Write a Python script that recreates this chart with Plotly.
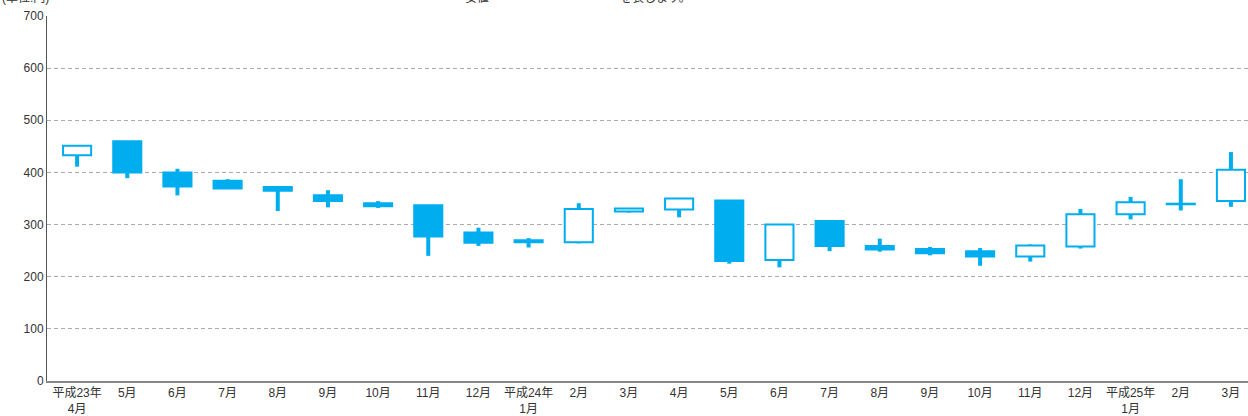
import plotly.graph_objects as go

months = ["平成23年<br>4月", "5月", "6月", "7月", "8月", "9月", "10月", "11月", "12月",
          "平成24年<br>1月", "2月", "3月", "4月", "5月", "6月", "7月", "8月", "9月",
          "10月", "11月", "12月", "平成25年<br>1月", "2月", "3月"]
open_ = [433, 460, 400, 384, 372, 356, 341, 337, 285, 270, 266, 325,
         329, 346, 232, 307, 259, 253, 249, 239, 258, 320, 339, 345]
high = [451, 460, 407, 387, 374, 366, 345, 337, 294, 274, 341, 331,
        350, 346, 300, 307, 273, 257, 255, 262, 330, 353, 387, 439]
low = [411, 389, 356, 369, 326, 333, 332, 240, 259, 256, 264, 323,
       314, 225, 218, 249, 248, 241, 221, 229, 254, 310, 327, 334]
close = [451, 400, 373, 369, 365, 345, 335, 277, 265, 266, 330, 331,
         350, 230, 300, 259, 252, 245, 239, 260, 320, 343, 340, 405]

CYAN = "#00AEEF"
idx = list(range(len(months)))

base = [min(o, c) for o, c in zip(open_, close)]
height = [max(abs(c - o), 0.8) for o, c in zip(open_, close)]
fills = [CYAN if c < o else "white" for o, c in zip(open_, close)]

wx, wy = [], []
for i, o, c, h, l in zip(idx, open_, close, high, low):
    top, bot = max(o, c), min(o, c)
    if h > top:
        wx += [i, i, None]
        wy += [top, h, None]
    if l < bot:
        wx += [i, i, None]
        wy += [bot, l, None]

fig = go.Figure()
fig.add_trace(go.Bar(x=idx, y=height, base=base, width=0.56,
                     marker=dict(color=fills, line=dict(color=CYAN, width=2)),
                     hoverinfo="skip", showlegend=False))
fig.add_trace(go.Scatter(x=wx, y=wy, mode="lines",
                         line=dict(color=CYAN, width=4),
                         hoverinfo="skip", showlegend=False))

font_family = "Liberation Sans, Arial, Noto Sans CJK JP, sans-serif"
ann_y = 1.0236
fig.update_layout(
    width=1248, height=416,
    margin=dict(l=47, r=0, t=16, b=35),
    plot_bgcolor="white", paper_bgcolor="white",
    font=dict(family=font_family, size=12, color="#333333"),
    xaxis=dict(range=[-0.6, 23.34], tickmode="array", tickvals=idx, ticktext=months,
               showgrid=False, zeroline=False, showline=True, linecolor="#888888",
               linewidth=1.5, ticks="", automargin=False,
               tickfont=dict(size=12, color="#333333")),
    yaxis=dict(range=[0, 700], dtick=100, showgrid=True, gridcolor="#aaaaaa",
               griddash="4px,3px", gridwidth=1, zeroline=False, showline=True,
               linecolor="#555555", linewidth=1, ticks="", automargin=False,
               tickfont=dict(size=12, color="#333333")),
    annotations=[
        dict(text="(単位:円)", xref="paper", yref="paper", x=-0.039, y=ann_y,
             xanchor="left", yanchor="bottom", showarrow=False,
             font=dict(size=12, color="#333333")),
        dict(text="安値", xref="paper", yref="paper", x=(463 - 47) / 1201, y=ann_y,
             xanchor="left", yanchor="bottom", showarrow=False,
             font=dict(size=12, color="#333333")),
        dict(text="を表します。", xref="paper", yref="paper", x=(618 - 47) / 1201, y=ann_y,
             xanchor="left", yanchor="bottom", showarrow=False,
             font=dict(size=12, color="#333333")),
    ],
)

fig.write_html("out.html", config={"displayModeBar": False},
               post_script="document.body.style.margin='0';document.body.style.overflow='hidden';")
